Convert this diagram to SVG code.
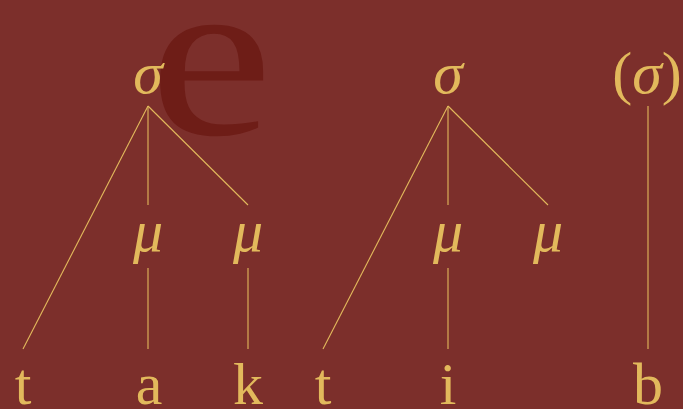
<svg xmlns="http://www.w3.org/2000/svg" width="683" height="409" viewBox="0 0 683 409">
<style>
.ln{stroke:#E2B95C;stroke-width:1.1;fill:none}
.g{fill:#E2B95C;font-family:"Liberation Serif","DejaVu Serif",serif;text-anchor:middle}
.gr{font-style:italic;font-size:60px}
.seg{font-size:60px}
.wm{fill:#6E1D17;font-family:"Liberation Serif",serif;font-size:232px;text-anchor:middle}
</style>
<rect width="683" height="409" fill="#7C2F2B"/>
<text class="wm" x="211" y="134" transform="translate(211 0) scale(1.2 1) translate(-211 0)">e</text>
<g id="connectors">
<line class="ln" x1="148" y1="106" x2="23" y2="349"/>
<line class="ln" x1="148" y1="106" x2="148" y2="205"/>
<line class="ln" x1="148" y1="106" x2="248" y2="205"/>
<line class="ln" x1="148" y1="268" x2="148" y2="349"/>
<line class="ln" x1="248" y1="268" x2="248" y2="349"/>
<line class="ln" x1="448" y1="106" x2="323" y2="349"/>
<line class="ln" x1="448" y1="106" x2="448" y2="205"/>
<line class="ln" x1="448" y1="106" x2="548" y2="205"/>
<line class="ln" x1="448" y1="268" x2="448" y2="349"/>
<line class="ln" x1="648" y1="106" x2="648" y2="349"/>
</g>
<g id="sigma1"><text class="g gr" x="148" y="93">σ</text></g>
<g id="sigma2"><text class="g gr" x="448" y="93">σ</text></g>
<g id="sigma3"><text class="g" x="647" y="93" style="font-size:60px">(<tspan font-style="italic">σ</tspan>)</text></g>
<g id="mu1"><text class="g gr" x="148" y="251">μ</text></g>
<g id="mu2"><text class="g gr" x="248" y="251">μ</text></g>
<g id="mu3"><text class="g gr" x="448" y="251">μ</text></g>
<g id="mu4"><text class="g gr" x="548" y="251">μ</text></g>
<g id="t1"><text class="g seg" x="23" y="404">t</text></g>
<g id="a"><text class="g seg" x="149" y="404">a</text></g>
<g id="k"><text class="g seg" x="248" y="404">k</text></g>
<g id="t2"><text class="g seg" x="323" y="404">t</text></g>
<g id="i"><text class="g seg" x="448" y="404">i</text></g>
<g id="b"><text class="g seg" x="648" y="404">b</text></g>
</svg>
